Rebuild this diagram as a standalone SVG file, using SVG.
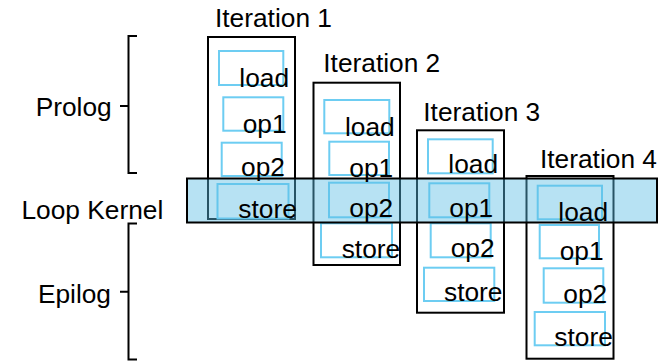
<svg xmlns="http://www.w3.org/2000/svg" width="664" height="361" viewBox="0 0 664 361">
<style>
text{font-family:"Liberation Sans",Arial,Helvetica,sans-serif;font-size:26.3px;fill:#000}
.frame{fill:none;stroke:#000;stroke-width:2}
.op{fill:none;stroke:#6dcdf2;stroke-width:2}
.brace{fill:none;stroke:#000;stroke-width:2}
.band{fill:#5cbce3;fill-opacity:0.44;stroke:#000;stroke-width:2}
.end{text-anchor:end}
</style>
<rect width="664" height="361" fill="#fff"/>
<g id="braces">
<path class="brace" d="M137,36 H128.5 V173 H137 M128.5,106 H120"/>
<path class="brace" d="M137,223.5 H128.5 V359.5 H137 M128.5,291.7 H120"/>
</g>
<g id="phase-labels">
<text class="end" x="111.7" y="116">Prolog</text>
<text class="end" x="163.3" y="219.3">Loop Kernel</text>
<text class="end" x="111" y="303.3">Epilog</text>
</g>
<g id="iteration1">
<text x="215" y="27">Iteration 1</text>
<rect class="frame" x="208" y="37" width="87" height="182"/>
<rect class="op" x="219" y="51" width="64.3" height="34"/>
<rect class="op" x="223.3" y="97.3" width="60" height="33.4"/>
<rect class="op" x="221.7" y="142.7" width="60" height="33.3"/>
<rect class="op" x="217.5" y="184" width="71" height="34.5"/>
</g>
<g id="iteration2">
<text x="323.3" y="72.3">Iteration 2</text>
<rect class="frame" x="313.5" y="82.7" width="86.5" height="182.3"/>
<rect class="op" x="324.3" y="100" width="65" height="33.3"/>
<rect class="op" x="329.3" y="141.7" width="59.7" height="33.3"/>
<rect class="op" x="329" y="182.7" width="60" height="34.6"/>
<rect class="op" x="321" y="223.3" width="71" height="34"/>
</g>
<g id="iteration3">
<text x="423.3" y="121">Iteration 3</text>
<rect class="frame" x="417" y="130.3" width="87" height="182.4"/>
<rect class="op" x="428" y="139.3" width="64.7" height="34"/>
<rect class="op" x="429.3" y="183.3" width="60" height="34"/>
<rect class="op" x="430.7" y="223.3" width="60" height="34"/>
<rect class="op" x="424" y="267.7" width="70.3" height="33.3"/>
</g>
<g id="iteration4">
<text x="540" y="168.3">Iteration 4</text>
<rect class="frame" x="526.5" y="176" width="87" height="182.7"/>
<rect class="op" x="537.7" y="185.7" width="64.3" height="33.6"/>
<rect class="op" x="539.7" y="225" width="59.3" height="33.3"/>
<rect class="op" x="543.7" y="268.3" width="59.6" height="34.4"/>
<rect class="op" x="534.7" y="312" width="70.3" height="33.3"/>
</g>
<g id="loop-kernel-band">
<rect class="band" x="187" y="178.5" width="470" height="44"/>
</g>
<g id="iteration1-labels">
<text x="239.3" y="87">load</text>
<text x="242.7" y="133">op1</text>
<text x="241" y="176">op2</text>
<text x="238.3" y="217.5">store</text>
</g>
<g id="iteration2-labels">
<text x="345" y="135.7">load</text>
<text x="349.3" y="176.7">op1</text>
<text x="349.3" y="216.7">op2</text>
<text x="341.7" y="258.3">store</text>
</g>
<g id="iteration3-labels">
<text x="448.3" y="173.3">load</text>
<text x="449.3" y="217.3">op1</text>
<text x="450.7" y="257.3">op2</text>
<text x="444" y="301">store</text>
</g>
<g id="iteration4-labels">
<text x="558.3" y="220.7">load</text>
<text x="559.7" y="260">op1</text>
<text x="563.3" y="302.7">op2</text>
<text x="554.3" y="346">store</text>
</g>
<g id="connectors"/>
</svg>
